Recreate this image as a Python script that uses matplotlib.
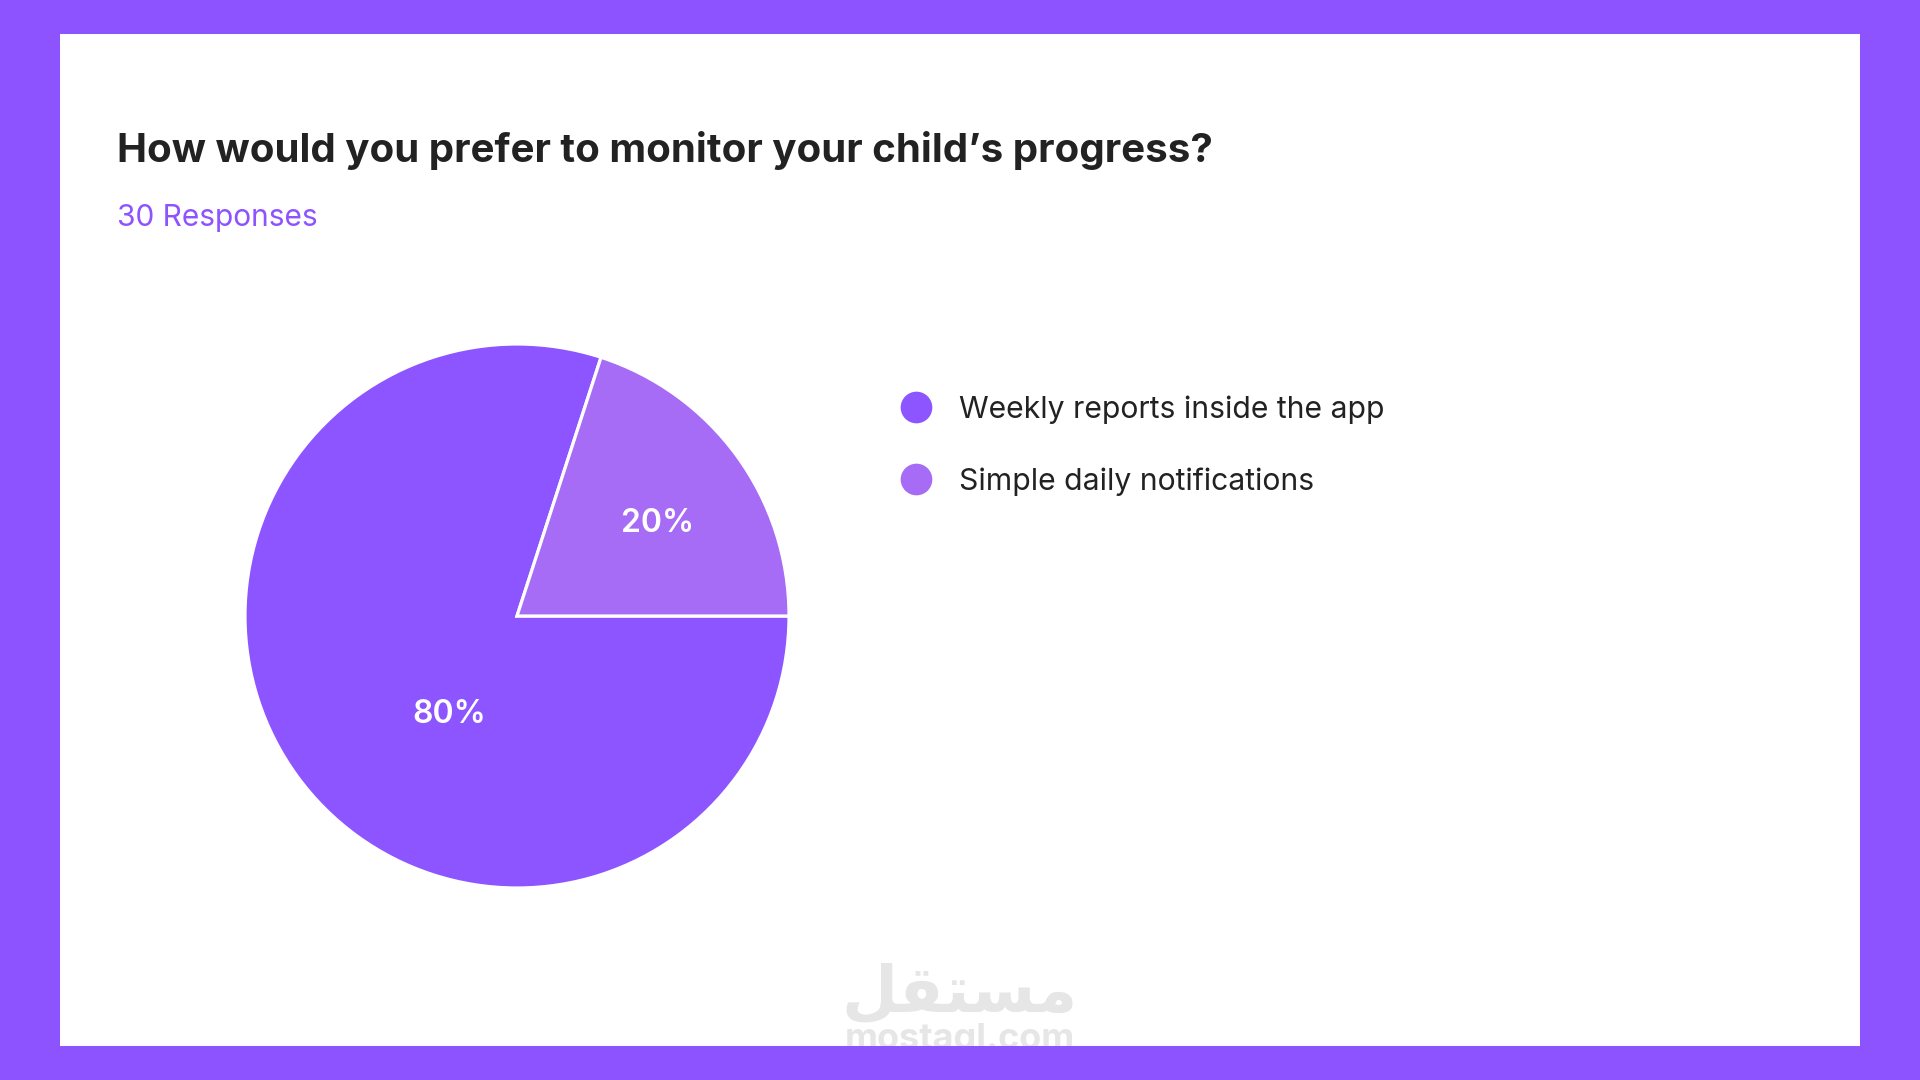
import numpy as np
import matplotlib
matplotlib.use("Agg")
import matplotlib.pyplot as plt
from matplotlib.patches import Rectangle
from matplotlib.lines import Line2D

plt.rcParams['font.family'] = ['Inter', 'DejaVu Sans']

# data
categories = ["Weekly reports inside the app", "Simple daily notifications"]
responses = [24, 6]
total = sum(responses)
title = "How would you prefer to monitor your child\u2019s progress?"
subtitle = f"{total} Responses"

purple = "#8C53FF"
colors = ["#8D55FF", "#A66CF5"]
W, H = 1920, 1080

fig = plt.figure(figsize=(19.2, 10.8), dpi=100, facecolor=purple)

# white card, behind everything
card = Rectangle((60 / W, 1 - 1046 / H), 1800 / W, 1012 / H,
                 transform=fig.transFigure, facecolor="white", edgecolor="none", zorder=-5)
fig.patches.append(card)

# watermark (clipped to the card)
wm1 = fig.text(960 / W, 1 - 1011 / H, "\uFEDE\uFED8\uFE98\uFEB4\uFEE3", ha="center", va="baseline",
               fontsize=46.5, color="#E6E6E6", fontweight="bold", family=["DejaVu Sans"], zorder=-4)
wm2 = fig.text(960 / W, 1 - 1049 / H, "mostaql.com", ha="center", va="baseline",
               fontsize=26, color="#E6E6E6", fontweight="bold", zorder=-4)
for t in (wm1, wm2):
    t.set_clip_path(card)

fig.text(117 / W, 1 - 161.7 / H, title, fontsize=29.0, fontweight="bold",
         color="#222222", va="baseline", ha="left")
fig.text(117 / W, 1 - 225.5 / H, subtitle, fontsize=21.5, color=purple,
         va="baseline", ha="left")

# pie
cx, cy, r = 517, 616, 272
ax = fig.add_axes([(cx - r) / W, 1 - (cy + r) / H, 2 * r / W, 2 * r / H])
start = 360 * responses[1] / total
wedges, _ = ax.pie(responses, colors=colors, startangle=start, counterclock=True,
                   wedgeprops=dict(edgecolor="white", linewidth=2.3))
ax.set_xlim(-1, 1)
ax.set_ylim(-1, 1)
ax.set_aspect("equal")
ax.axis("off")

label_pos = [(234.5, 0.43), (34.5, 0.625)]
for val, (ang, dist) in zip(responses, label_pos):
    a = np.deg2rad(ang)
    ax.text(dist * np.cos(a), dist * np.sin(a), f"{round(100 * val / total)}%",
            ha="center", va="center_baseline", color="white", fontsize=23, fontweight="semibold")

# legend
handles = [Line2D([], [], marker="o", linestyle="none", markersize=22.8,
                  markerfacecolor=c, markeredgecolor="none") for c in colors]
fig.legend(handles, categories, loc="upper left", bbox_to_anchor=(900 / W, 1 - 395.5 / H),
           frameon=False, fontsize=21.7, labelcolor="#222222", handlelength=1.05,
           handletextpad=0.9, labelspacing=1.43, borderpad=0, borderaxespad=0)

fig.savefig("out.png", dpi=100, facecolor=purple)
